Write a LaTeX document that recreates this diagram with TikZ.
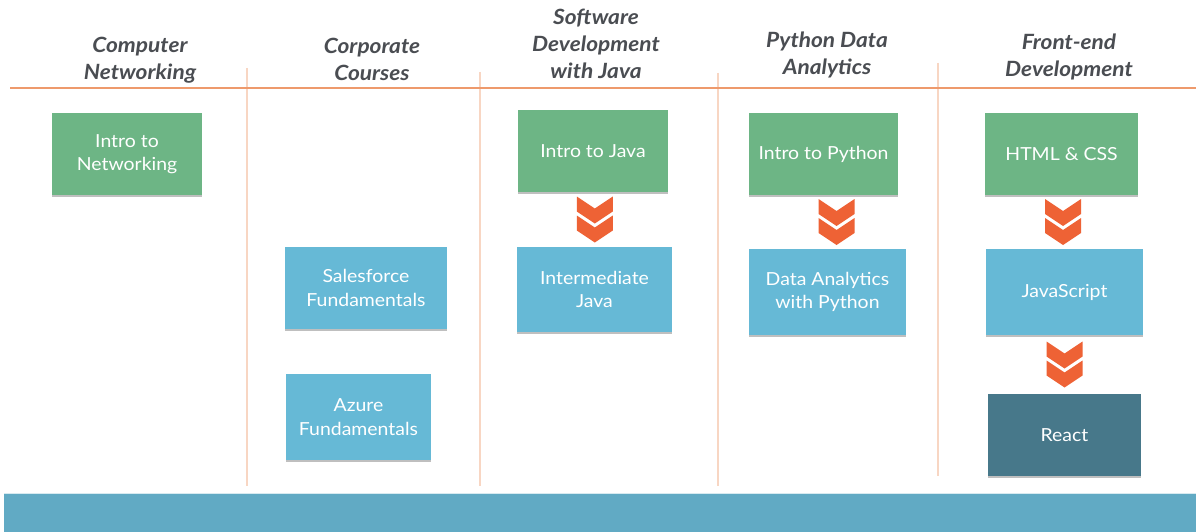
\documentclass[tikz,border=0pt]{standalone}
\usepackage{fontspec}
\setmainfont{Lato}[FakeStretch=1.08]
\usetikzlibrary{shadows,calc}

\definecolor{headgray}{HTML}{4A4D52}
\definecolor{introgreen}{HTML}{6DB585}
\definecolor{midblue}{HTML}{66B9D6}
\definecolor{advteal}{HTML}{47788A}
\definecolor{chevorange}{HTML}{EE6235}
\definecolor{ruleorange}{HTML}{EE9A6C}
\definecolor{colpeach}{HTML}{F8D6C3}
\definecolor{bandblue}{HTML}{61AAC4}

\tikzset{
  heading/.style={font=\fontsize{21}{27}\selectfont\bfseries\itshape,
    text=headgray, align=center, inner sep=0pt},
  course/.style={rectangle, text=white, align=center, inner sep=2pt,
    font=\fontsize{18}{23.5}\selectfont,
    drop shadow={shadow xshift=0pt, shadow yshift=-1.5pt, opacity=0.25, fill=black}},
  intro/.style={course, fill=introgreen},
  middle/.style={course, fill=midblue},
  advanced/.style={course, fill=advteal},
  colline/.style={draw=colpeach, line width=1.3pt},
  pics/dblchev/.style={code={
    \foreach \dy in {0,19} {
      \fill[chevorange] (-18,\dy) -- (0,\dy+12) -- (18,\dy) -- (18,\dy+15)
        -- (0,\dy+27) -- (-18,\dy+15) -- cycle;
    }
  }}
}

\begin{document}
\begin{tikzpicture}[x=1pt,y=-1pt]
  \useasboundingbox (0,0) rectangle (1196,532);
  \fill[white] (0,0) rectangle (1196,532);

  % column separators
  \draw[colline] (247,68) -- (247,486);
  \draw[colline] (480,72) -- (480,486);
  \draw[colline] (718,73) -- (718,486);
  \draw[colline] (938,63) -- (938,476);

  % header rule
  \draw[ruleorange, line width=1.6pt] (10,88) -- (1196,88);

  % bottom band
  \fill[bandblue] (4,493) rectangle (1196,532);
  \draw[white!75!bandblue, line width=1pt] (4,493) -- (1196,493);

  % column headings
  \node[heading] (hnet)  at (140,60)   {Computer\\Networking};
  \node[heading] (hcorp) at (372,59)   {Corporate\\Courses};
  \node[heading] (hjava) at (596,43.5) {Software\\Development\\with Java};
  \node[heading] (hpy)   at (827,55)   {Python Data\\Analytics};
  \node[heading] (hfe)   at (1069,57)  {Front-end\\Development};

  % course boxes
  \node[intro, minimum width=150pt, minimum height=82pt] (net)   at (127,154)    {Intro to\\Networking};
  \node[intro, minimum width=150pt, minimum height=82pt] (java1) at (593,151)    {Intro to Java};
  \node[intro, minimum width=149pt, minimum height=82pt] (py1)   at (823.5,154)  {Intro to Python};
  \node[intro, minimum width=153pt, minimum height=82pt] (html)  at (1061.5,154) {HTML \& CSS};

  \node[middle, minimum width=162pt, minimum height=82pt] (sf)    at (366,288)    {Salesforce\\Fundamentals};
  \node[middle, minimum width=145pt, minimum height=86pt] (az)    at (358.5,417)  {Azure\\Fundamentals};
  \node[middle, minimum width=155pt, minimum height=85pt] (java2) at (594.5,289.5){Intermediate\\Java};
  \node[middle, minimum width=157pt, minimum height=86pt] (py2)   at (827.5,292)  {Data Analytics\\with Python};
  \node[middle, minimum width=157pt, minimum height=86pt] (js)    at (1064.5,292) {JavaScript};

  \node[advanced, minimum width=153pt, minimum height=82pt] (react) at (1064.5,435) {React};

  % progression chevrons between consecutive courses
  \path ($(java1.south)!0.5!(java2.north)$) ++(1,-23) pic {dblchev};
  \path ($(py1.south)!0.5!(py2.north)$) ++(11,-23) pic {dblchev};
  \path ($(html.south)!0.5!(js.north)$) ++(0,-23) pic {dblchev};
  \path ($(js.south)!0.5!(react.north)$) ++(0,-23) pic {dblchev};
\end{tikzpicture}
\end{document}
